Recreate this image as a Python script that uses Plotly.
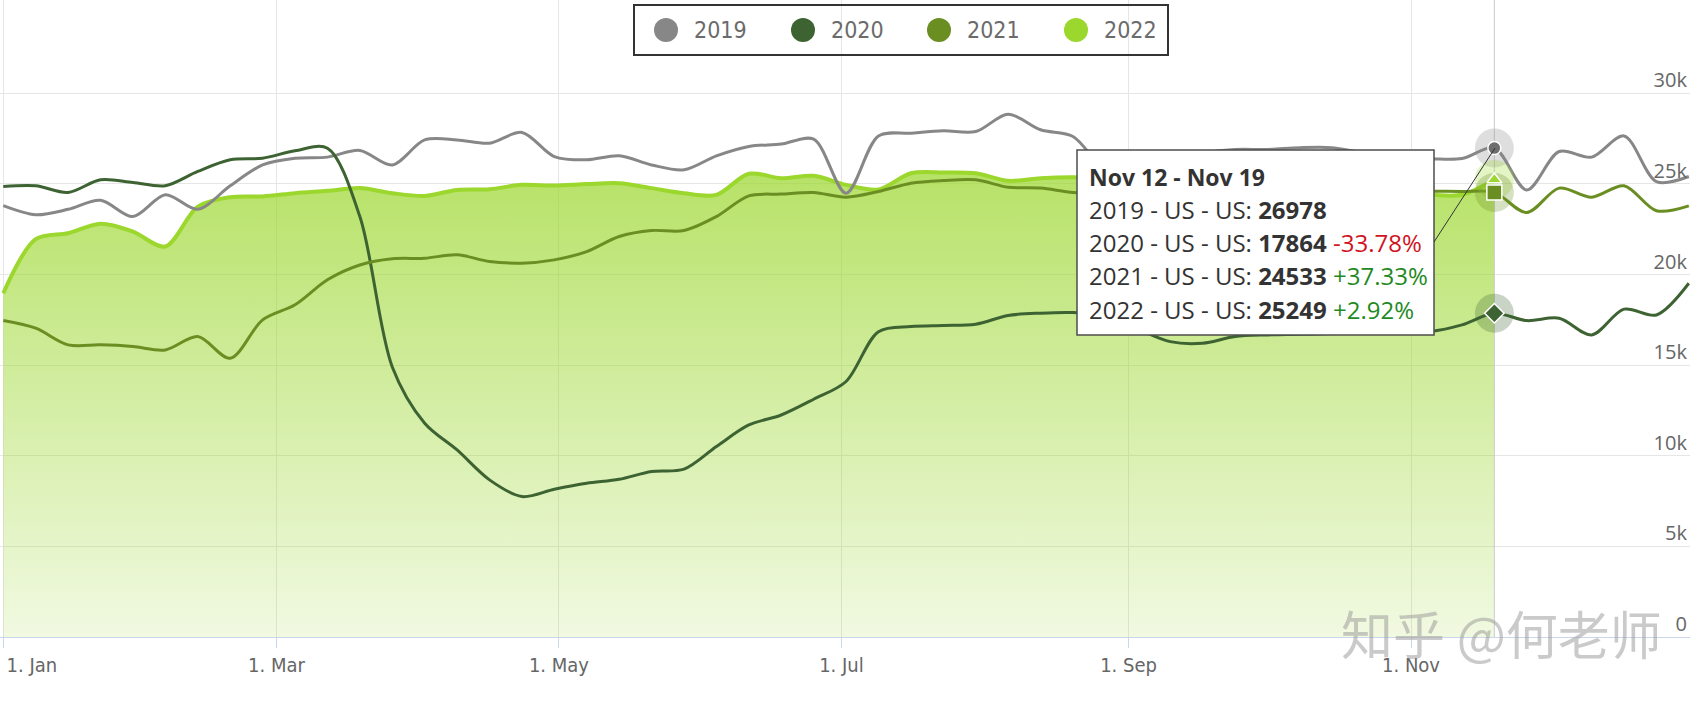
import plotly.graph_objects as go
import pandas as pd

# ---------------- data ----------------
weeks = pd.date_range("2022-01-01", periods=53, freq="7D")

v2019 = [23800, 23300, 23600, 24100, 23200, 24400, 23600, 24900, 26050, 26420,
         26480, 26850, 26050, 27430, 27430, 27250, 27840, 26510, 26330, 26550,
         26050, 25780, 26550, 27070, 27200, 27470, 24490, 27650, 27800, 27930,
         27890, 28850, 27990, 27620, 25800, 25700, 26300, 26700, 26900, 26900,
         27000, 27000, 26700, 26400, 26390, 26400, 26978, 24670, 26790, 26480,
         27650, 25130, 25410]
v2020 = [24860, 24900, 24530, 25230, 25080, 24900, 25690, 26330, 26420, 26830,
         26970, 23200, 14900, 11800, 10320, 8670, 7750, 8150, 8480, 8700,
         9130, 9260, 10510, 11700, 12250, 13120, 14100, 16850, 17130, 17190,
         17260, 17740, 17870, 17900, 17700, 17000, 16300, 16210, 16580, 16670,
         16700, 16750, 16800, 16800, 16850, 17220, 17864, 17460, 17590, 16670,
         18090, 17770, 19520]
v2021 = [17460, 17040, 16120, 16120, 16030, 15840, 16580, 15380, 17500, 18330,
         19710, 20530, 20870, 20900, 21090, 20720, 20630, 20810, 21270, 22100,
         22430, 22430, 23200, 24340, 24440, 24530, 24270, 24580, 25040, 25190,
         25230, 24820, 24770, 24530, 24500, 24450, 24500, 24550, 24600, 24600,
         24600, 24600, 24600, 24600, 24600, 24580, 24533, 23420, 24770, 24270,
         24900, 23520, 23790]
v2022 = [18970, 21950, 22280, 22800, 22370, 21550, 23750, 24270, 24310, 24490,
         24620, 24770, 24490, 24340, 24670, 24710, 24950, 24910, 24990, 25040,
         24770, 24490, 24400, 25560, 25320, 25450, 24950, 24700, 25590, 25630,
         25590, 25170, 25320, 25370, 25300, 25200, 25000, 24900, 24800, 24700,
         24600, 24500, 24500, 24400, 24400, 24400, 25249]

series_names = ["2019", "2020", "2021", "2022"]
tick_dates = ["2022-01-01", "2022-03-01", "2022-05-01", "2022-07-01", "2022-09-01", "2022-11-01"]
tick_labels = ["\u00a0" * 10 + "1. Jan", "1. Mar", "1. May", "1. Jul", "1. Sep", "1. Nov"]
y_ticks = [0, 5000, 10000, 15000, 20000, 25000, 30000]
y_labels = ["0", "5k", "10k", "15k", "20k", "25k", "30k"]
hover_idx = 46
hover_title = "Nov 12 - Nov 19"

# ---------------- style ----------------
C2019, C2020, C2021, C2022 = "#878787", "#3d6332", "#6b8e23", "#9bd72d"
NARROW = "Liberation Sans Narrow, DejaVu Sans Condensed, Arial Narrow, sans-serif"
SANS = "Open Sans, Lato, sans-serif"

W, H = 1701, 702
L, R, T, B = 0, 11, 0, 65
PW, PH = W - L - R, H - T - B


def px(x):
    return (x - L) / PW


def py(y):
    return 1 - (y - T) / PH


fig = go.Figure()

# 2022 area
fig.add_trace(go.Scatter(
    x=weeks[:len(v2022)], y=v2022, mode="lines",
    line=dict(color=C2022, width=4, shape="spline", smoothing=0.9),
    fill="tozeroy",
    fillgradient=dict(type="vertical", start=0, stop=25500,
                      colorscale=[[0, "rgba(155,215,45,0.14)"], [1, "rgba(155,215,45,0.72)"]]),
))

# crosshair
fig.add_trace(go.Scatter(x=[weeks[hover_idx], weeks[hover_idx]], y=[0, 35150], mode="lines",
                         line=dict(color="#cccccc", width=1)))

for vals, col in [(v2019, C2019), (v2020, C2020), (v2021, C2021)]:
    fig.add_trace(go.Scatter(x=weeks, y=vals, mode="lines",
                             line=dict(color=col, width=3, shape="spline", smoothing=0.9)))

# halos
for vals, rgba in [(v2019, "rgba(135,135,135,0.28)"), (v2022, "rgba(155,215,45,0.28)"),
                   (v2021, "rgba(107,142,35,0.28)"), (v2020, "rgba(61,99,50,0.28)")]:
    fig.add_trace(go.Scatter(x=[weeks[hover_idx]], y=[vals[hover_idx]], mode="markers",
                             marker=dict(size=39, color=rgba, line=dict(width=0))))

# hover markers
for vals, col, sym, sz in [(v2022, C2022, "triangle-up", 13), (v2019, "#6e6e6e", "circle", 13),
                           (v2021, C2021, "square", 15), (v2020, C2020, "diamond", 15)]:
    fig.add_trace(go.Scatter(x=[weeks[hover_idx]], y=[vals[hover_idx]], mode="markers",
                             marker=dict(size=sz, color=col, symbol=sym,
                                         line=dict(width=1.5, color="white"))))

shapes = []
annotations = []

# legend
legend_cx = [666, 803, 939, 1076]
legend_tx = [692, 829, 965, 1102]
legend_cols = [C2019, C2020, C2021, C2022]
shapes.append(dict(type="rect", xref="paper", yref="paper", x0=px(634), x1=px(1168),
                   y0=py(55), y1=py(5), line=dict(color="#333333", width=2),
                   fillcolor="rgba(0,0,0,0)", layer="above"))
for cx, tx, col, name in zip(legend_cx, legend_tx, legend_cols, series_names):
    shapes.append(dict(type="circle", xref="paper", yref="paper", x0=px(cx - 12), x1=px(cx + 12),
                       y0=py(42), y1=py(18), fillcolor=col, line=dict(width=0), layer="above"))
    annotations.append(dict(x=px(tx), y=py(30), xref="paper", yref="paper", text=name,
                            showarrow=False, xanchor="left", yanchor="middle",
                            font=dict(family=NARROW, size=23, color="#6b6b6b")))

# tooltip
shapes.append(dict(type="rect", xref="paper", yref="paper", x0=px(1077), x1=px(1434),
                   y0=py(335), y1=py(150), fillcolor="white",
                   line=dict(color="#4d4d4d", width=1.5), layer="above"))
shapes.append(dict(type="line", xref="paper", yref="paper", x0=px(1434), y0=py(242),
                   x1=px(1495), y1=py(148), line=dict(color="#333333", width=1), layer="above"))

vals_h = [v2019[hover_idx], v2020[hover_idx], v2021[hover_idx], v2022[hover_idx]]
lines = [f"<b>{hover_title}</b>"]
for k, (name, v) in enumerate(zip(series_names, vals_h)):
    s = f"{name} - US - US: <b>{v}</b>"
    if k > 0:
        pct = (v / vals_h[k - 1] - 1) * 100
        col = "#d0141f" if pct < 0 else "#1f8a1f"
        s += f" <span style='color:{col}'>{pct:+.2f}%</span>"
    lines.append(s)
for k, s in enumerate(lines):
    annotations.append(dict(x=px(1087), y=py(177 + 33 * k), xref="paper", yref="paper", text=s,
                            showarrow=False, xanchor="left", yanchor="middle",
                            font=dict(family=SANS, size=23 if k == 0 else 24, color="#333333")))

# watermark
annotations.append(dict(x=px(1501), y=py(632), xref="paper", yref="paper", text="知乎 @何老师",
                        showarrow=False, xanchor="center", yanchor="middle",
                        font=dict(family="Noto Sans CJK SC", size=52, color="rgba(150,150,150,0.5)")))

fig.update_layout(
    width=W, height=H, margin=dict(l=L, r=R, t=T, b=B, autoexpand=False),
    paper_bgcolor="white", plot_bgcolor="white",
    showlegend=False, hovermode=False,
    shapes=shapes, annotations=annotations,
    xaxis=dict(type="date", range=["2021-12-31 07:00", "2022-12-31 06:00"],
               tickvals=tick_dates, ticktext=tick_labels, ticklabeloverflow="allow",
               automargin=False,
               showgrid=True, gridcolor="#e6e6e6", gridwidth=1, zeroline=False,
               showline=True, linecolor="#ccd6eb", linewidth=1,
               ticks="outside", ticklen=10, tickcolor="#ccd6eb",
               tickfont=dict(family=NARROW, size=20, color="#666666")),
    yaxis=dict(range=[0, 35150], tickvals=y_ticks, ticktext=y_labels,
               side="right", ticklabelposition="inside", ticklabelshift=-13,
               ticklabeloverflow="allow", automargin=False,
               showgrid=True, gridcolor="#e6e6e6", gridwidth=1, zeroline=False, showline=False,
               ticks="", tickfont=dict(family=SANS, size=20, color="#666666")),
)

fig.write_html("out.html")
